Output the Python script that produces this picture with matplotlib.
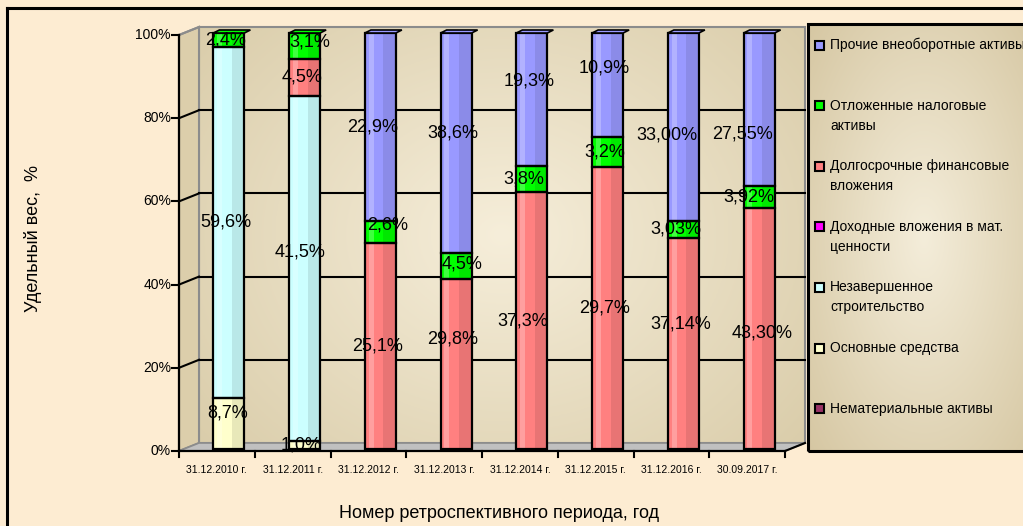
import numpy as np
import matplotlib.pyplot as plt
from matplotlib.patches import Rectangle, Polygon
from matplotlib.lines import Line2D

plt.rcParams['font.family'] = ['Liberation Sans', 'DejaVu Sans']

# данные (значения подписей, столбцы нормированы до 100%)
periods = ['31.12.2010 г.', '31.12.2011 г.', '31.12.2012 г.', '31.12.2013 г.',
           '31.12.2014 г.', '31.12.2015 г.', '31.12.2016 г.', '30.09.2017 г.']
nematerial = [0, 0, 0, 0, 0, 0, 0, 0]
osnovnye = [8.7, 1.0, 0, 0, 0, 0, 0, 0]
nezavershennoe = [59.6, 41.5, 0, 0, 0, 0, 0, 0]
dohodnye = [0, 0, 0, 0, 0, 0, 0, 0]
dolgosrochnye = [0, 4.5, 25.1, 29.8, 37.3, 29.7, 37.14, 43.30]
otlozhennye = [2.4, 3.1, 2.6, 4.5, 3.8, 3.2, 3.03, 3.92]
prochie = [0, 0, 22.9, 38.6, 19.3, 10.9, 33.00, 27.55]
label_decimals = [1, 1, 1, 1, 1, 1, 2, 2]

# снизу вверх
series = [nematerial, osnovnye, nezavershennoe, dohodnye,
          dolgosrochnye, otlozhennye, prochie]
colors = ['#993366', '#FFFFCC', '#CCFFFF', '#FF00FF',
          '#FF8080', '#00FF00', '#9999FF']
legend_labels = ['Нематериальные активы',
                 'Основные средства',
                 'Незавершенное\nстроительство',
                 'Доходные вложения в мат.\nценности',
                 'Долгосрочные финансовые\nвложения',
                 'Отложенные налоговые\nактивы',
                 'Прочие внеоборотные активы']

# ручные сдвиги подписей (пиксели: вправо, вниз) -- как в исходнике
label_nudge = {
    (0, 1): (2, -10),
    (1, 5): (8, -4), (1, 2): (-2, -16),
    (2, 5): (10, -7), (2, 6): (-5, 0),
    (3, 6): (0, -10), (3, 4): (0, -25), (3, 5): (9, -2),
    (4, 6): (0, -18), (4, 4): (-6, 0), (4, 5): (-5, 0),
    (5, 6): (0, -17),
    (6, 6): (-13, 8), (6, 4): (0, -19), (6, 5): (-5, 0),
    (7, 6): (-14, 24), (7, 5): (-7, 0), (7, 4): (6, 4),
}

W, H = 1023, 526
BG = '#FDECD2'
fig = plt.figure(figsize=(W / 100, H / 100), dpi=100, facecolor=BG)


def fx(x):
    return x / W


def fy(y):
    return 1 - y / H


# основная область (передняя плоскость)
AX_L, AX_R, AX_B, AX_T = 179, 785, 451, 35
ax = fig.add_axes([fx(AX_L), fy(AX_B), (AX_R - AX_L) / W, (AX_B - AX_T) / H])
ax.axis('off')
sx = (AX_R - AX_L) / 8.0
sy = (AX_B - AX_T) / 100.0


def dx(p):
    return p / sx


def dy(p):
    return p / sy


WX, WY = dx(20), dy(8)   # глубина стенки
BX, BY = dx(12), dy(2)   # смещение столбцов
bw = 31 / sx


def radial(c_in, c_out, nx=300, ny=200, cx=0.5, cy=0.5, rx=0.65, ry=0.7):
    yy, xx = np.mgrid[0:1:ny * 1j, 0:1:nx * 1j]
    r = np.clip(np.sqrt(((xx - cx) / rx) ** 2 + ((yy - cy) / ry) ** 2), 0, 1)
    a = np.array(plt.matplotlib.colors.to_rgb(c_in))
    b = np.array(plt.matplotlib.colors.to_rgb(c_out))
    return a[None, None, :] * (1 - r[..., None]) + b[None, None, :] * r[..., None]


# задняя стенка
img = radial('#F6EEDA', '#D6C8A3', rx=0.75, ry=0.9)
im = ax.imshow(img, extent=(-0.5 + WX, 7.5 + WX, WY, 100 + WY),
               aspect='auto', zorder=0, origin='upper')
im.set_clip_on(False)
ax.add_patch(Rectangle((-0.5 + WX, WY), 8, 100, fill=False, ec='#8C8C8C',
                       lw=1.5, zorder=1, clip_on=False))
# боковая стенка
ax.add_patch(Polygon([(-0.5, 0), (-0.5 + WX, WY), (-0.5 + WX, 100 + WY), (-0.5, 100)],
                     closed=True, fc='#DCCEAB', ec='#8C8C8C', lw=1.5, zorder=1,
                     clip_on=False))
# пол
ax.add_patch(Polygon([(-0.5, 0), (7.5, 0), (7.5 + WX, WY), (-0.5 + WX, WY)],
                     closed=True, fc='#C0C0C0', ec='#8C8C8C', lw=1.2, zorder=1,
                     clip_on=False))

# сетка
for v in [20, 40, 60, 80]:
    ax.plot([-0.5 + WX, 7.5 + WX], [v + WY, v + WY], color='black', lw=1.5,
            zorder=1.5, clip_on=False)
    ax.plot([-0.5, -0.5 + WX], [v, v + WY], color='black', lw=1.5,
            zorder=1.5, clip_on=False)
ax.plot([-0.5, -0.5 + WX], [100, 100 + WY], color='#8C8C8C', lw=1.5,
        zorder=1.5, clip_on=False)

# оси
ax.plot([-0.5, -0.5], [0, 100], color='black', lw=1.6, zorder=2, clip_on=False)
ax.plot([-0.5, 7.5], [0, 0], color='black', lw=1.6, zorder=2, clip_on=False)
ax.plot([7.5, 7.5 + WX], [0, WY], color='black', lw=1.5, zorder=2, clip_on=False)
for v in range(0, 101, 20):
    ax.plot([-0.5 - dx(7), -0.5], [v, v], color='black', lw=1.5, clip_on=False)
    ax.text(-0.5 - dx(8), v, f'{v}%', ha='right', va='center', fontsize=10)
for k in range(9):
    ax.plot([k - 0.5, k - 0.5], [0, -dy(6)], color='black', lw=1.5, clip_on=False)
for i, p in enumerate(periods):
    ax.text(i, -dy(19), p, ha='center', va='center', fontsize=7.5)

# столбцы
for i in range(len(periods)):
    vals = [s[i] for s in series]
    total = sum(vals)
    cum = 0.0
    x0 = i - bw / 2 + BX
    for j, v in enumerate(vals):
        if v <= 0:
            continue
        h = v / total * 100
        y0 = cum + BY
        ax.add_patch(Rectangle((x0, y0), bw, h, fc=colors[j], ec='none',
                               zorder=3, clip_on=False))
        ax.add_patch(Rectangle((x0 + bw * 0.6, y0), bw * 0.4, h, fc='black',
                               alpha=0.09, ec='none', zorder=3.1, clip_on=False))
        ax.add_patch(Rectangle((x0 + bw * 0.12, y0), bw * 0.16, h, fc='white',
                               alpha=0.25, ec='none', zorder=3.1, clip_on=False))
        ax.add_patch(Rectangle((x0, y0), bw, h, fill=False, ec='black', lw=1.6,
                               zorder=3.2, clip_on=False))
        txt = f'{v:.{label_decimals[i]}f}'.replace('.', ',') + '%'
        nx, ny = label_nudge.get((i, j), (0, 0))
        ax.text(i + BX - 0.04 + dx(nx), y0 + h / 2 - dy(ny), txt,
                ha='center', va='center', fontsize=13, zorder=5)
        cum += h
        top_color = colors[j]
    ax.add_patch(Polygon([(x0, 100 + BY), (x0 + bw, 100 + BY),
                          (x0 + bw + dx(6), 100 + BY + dy(3)),
                          (x0 + dx(6), 100 + BY + dy(3))],
                         closed=True, fc=top_color, ec='black', lw=1.2,
                         zorder=3.3, clip_on=False))

ax.set_xlim(-0.5, 7.5)
ax.set_ylim(0, 100)

# подписи осей
fig.text(fx(33), fy(238), 'Удельный вес,  %', rotation=90, ha='center',
         va='center', fontsize=13)
fig.text(fx(499), fy(513), 'Номер ретроспективного периода, год',
         ha='center', va='center', fontsize=13)

# легенда
LG_L, LG_T, LG_B, LG_R = 808, 24, 451, 1040
lax = fig.add_axes([fx(LG_L), fy(LG_B), (LG_R - LG_L) / W, (LG_B - LG_T) / H])
lax.imshow(radial('#F4EDDA', '#D5C6A1', rx=0.7, ry=0.75), aspect='auto',
           extent=(0, 1, 0, 1))
lax.set_xlim(0, 1)
lax.set_ylim(0, 1)
lax.axis('off')
lax.add_patch(Rectangle((0, 0), 1, 1, transform=lax.transAxes, fill=False,
                        ec='black', lw=2.2, clip_on=False))

for k in range(len(legend_labels)):
    j = len(legend_labels) - 1 - k
    y = 45 + k * 60.6
    fig.add_artist(Rectangle((fx(815), fy(y + 4.5)), 9 / W, 9 / H,
                             transform=fig.transFigure, fc=colors[j],
                             ec='black', lw=1.5))
    for n, line in enumerate(legend_labels[j].split('\n')):
        fig.text(fx(830), fy(y + n * 20), line, ha='left', va='center',
                 fontsize=10)

# рамка
fig.add_artist(Line2D([fx(7), fx(7)], [0, fy(8)], color='black', lw=2.2))
fig.add_artist(Line2D([fx(7), 1], [fy(8), fy(8)], color='black', lw=2.2))

fig.savefig('out.png', dpi=100, facecolor=fig.get_facecolor())
